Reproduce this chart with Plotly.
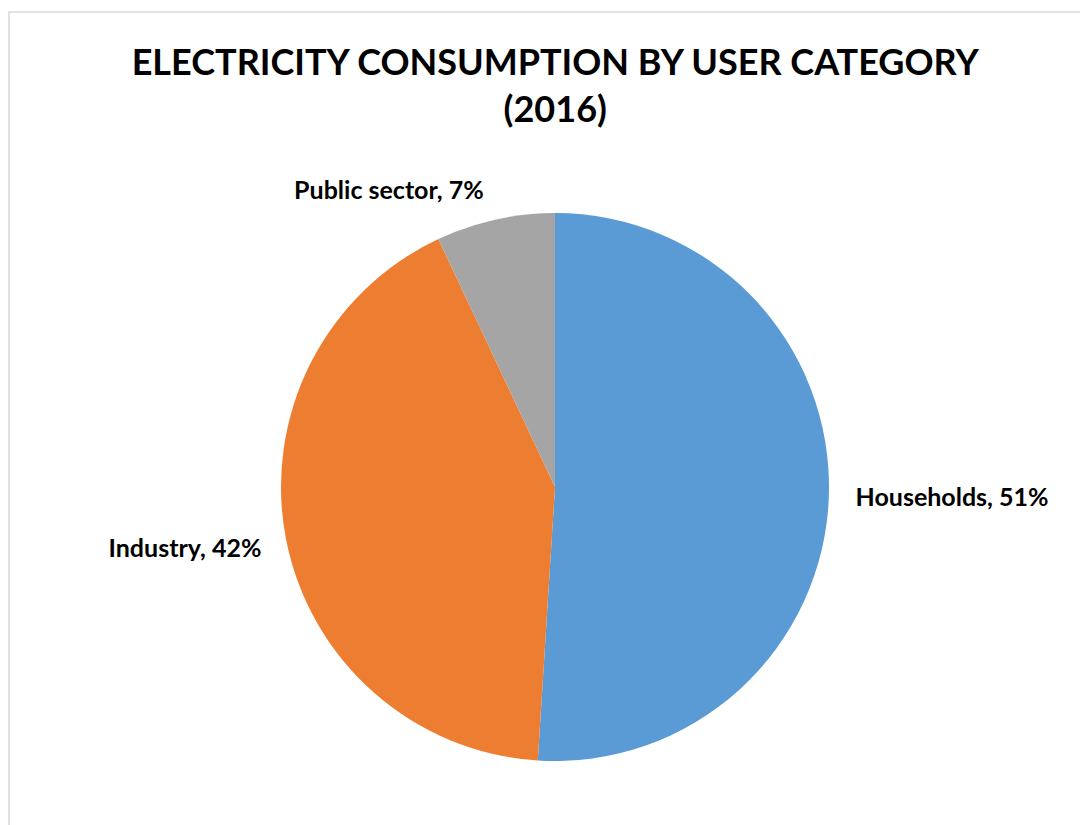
import plotly.graph_objects as go

categories = ["Households", "Industry", "Public sector"]
values = [51, 42, 7]
colors = ["#5B9BD5", "#ED7D31", "#A5A5A5"]
title_lines = ["ELECTRICITY CONSUMPTION BY USER CATEGORY", "(2016)"]

FONT = "Lato"
NB = "\u00a0"
core = "<b>%{label}, %{percent:.0%}</b>"


def big(s):
    return "<span style='font-size:25px'>" + s + "</span>"


templates = [
    big(NB * 3 + core),
    NB + "<br>" + big(core + NB * 2),
    big(core) + "<br>" + NB,
]

fig = go.Figure(
    go.Pie(
        labels=categories,
        values=values,
        marker=dict(colors=colors, line=dict(width=0)),
        sort=False,
        direction="clockwise",
        rotation=0,
        textposition="outside",
        texttemplate=templates,
        textfont=dict(family=FONT, size=[25, 18, 14], color="#000000"),
        showlegend=False,
        hoverinfo="label+percent",
        automargin=False,
    )
)

L, R, T, B = 120, 114, 205, 72
W = 1088 - L - R
H = 825 - T - B

fig.update_layout(
    width=1088,
    height=825,
    paper_bgcolor="white",
    plot_bgcolor="white",
    margin=dict(l=L, r=R, t=T, b=B, autoexpand=False),
    title=dict(
        text="<b>" + "<br>".join(title_lines) + "</b>",
        font=dict(family=FONT, size=36, color="#000000"),
        x=0.503,
        xanchor="center",
        y=0.919,
        yanchor="middle",
    ),
    shapes=[
        dict(
            type="rect",
            xref="paper", yref="paper",
            x0=(1 - L) / W, x1=(1100 - L) / W,
            y0=-(B + 20) / H, y1=1 + (T - 4) / H,
            line=dict(color="#D9D9D9", width=1.5),
            fillcolor="rgba(0,0,0,0)",
            layer="below",
        )
    ],
)

fig.write_html("out.html")
